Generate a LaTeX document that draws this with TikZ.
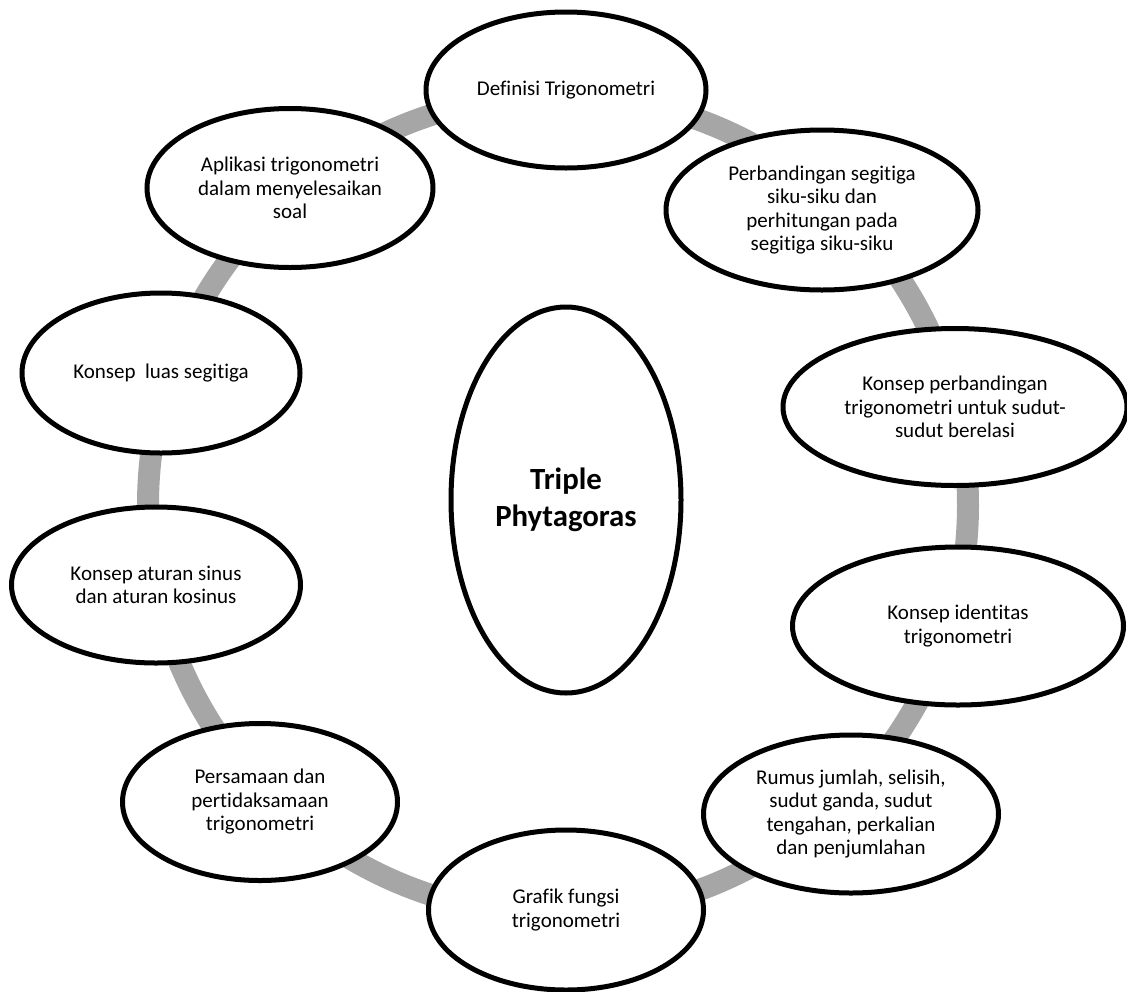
\documentclass[tikz,border=0pt]{standalone}
\usepackage{fontspec}
\setmainfont{Carlito}[Ligatures={NoCommon}]
\usetikzlibrary{shapes.geometric}
\definecolor{ringgray}{HTML}{A6A6A6}
\tikzset{
  topic/.style={draw=black, line width=5pt, fill=white, ellipse, inner sep=0pt,
    align=center, font=\fontsize{21}{23.5}\selectfont},
  hub/.style={topic, font=\fontsize{30.8}{37}\selectfont\bfseries}
}
\begin{document}
\begin{tikzpicture}[x=1pt, y=-1pt]
\useasboundingbox (0,0) rectangle (1127,991);
% the cycle ring behind the topics
\coordinate (ringc) at (558,505);
\draw[ringgray, line width=22pt] (ringc) circle[radius=410pt];
% topics around the ring
\node[topic, minimum width=280pt, minimum height=156pt] (def) at (566,90) {Definisi Trigonometri};
\node[topic, minimum width=312pt, minimum height=160pt] (perb) at (822,210) {Perbandingan segitiga\\siku-siku dan\\perhitungan pada\\segitiga siku-siku};
\node[topic, minimum width=344pt, minimum height=157pt] (relasi) at (955,407) {Konsep perbandingan\\trigonometri untuk sudut-\\sudut berelasi};
\node[topic, minimum width=331pt, minimum height=158pt] (ident) at (958,626) {Konsep identitas\\trigonometri};
\node[topic, minimum width=295pt, minimum height=158pt] (rumus) at (851,814) {Rumus jumlah, selisih,\\sudut ganda, sudut\\tengahan, perkalian\\dan penjumlahan};
\node[topic, minimum width=275pt, minimum height=160pt] (grafik) at (566,910) {Grafik fungsi\\trigonometri};
\node[topic, minimum width=275pt, minimum height=157pt] (pers) at (260,802) {Persamaan dan\\pertidaksamaan\\trigonometri};
\node[topic, minimum width=289pt, minimum height=156pt] (sinus) at (156,585) {Konsep aturan sinus\\dan aturan kosinus};
\node[topic, minimum width=278pt, minimum height=160pt] (luas) at (161,373) {Konsep\ \ luas segitiga};
\node[topic, minimum width=286pt, minimum height=159pt] (apl) at (290,188) {Aplikasi trigonometri\\dalam menyelesaikan\\soal};
% central topic
\node[hub, minimum width=230pt, minimum height=386pt] (triple) at (566,500) {Triple\\Phytagoras};
\end{tikzpicture}
\end{document}
